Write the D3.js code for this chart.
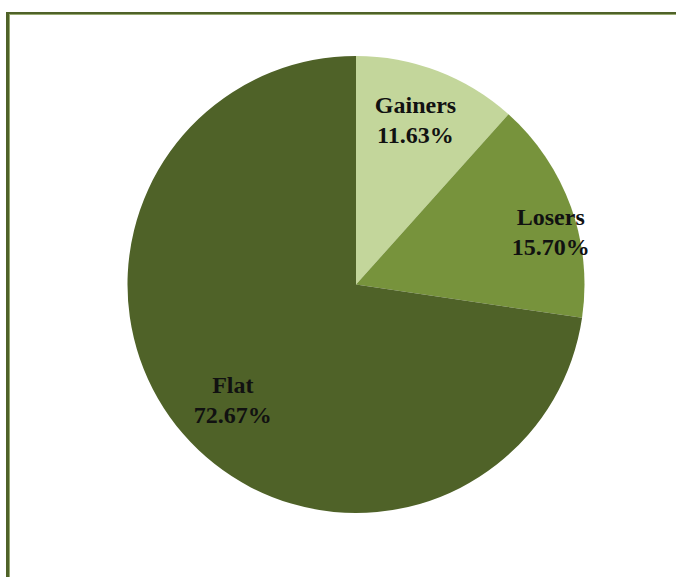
<!DOCTYPE html>
<html>
<head>
<meta charset="utf-8">
<script src="https://cdn.jsdelivr.net/npm/d3@7"></script>
<style>
  html, body { margin: 0; padding: 0; background: #ffffff; }
  svg { display: block; }
</style>
</head>
<body>
<svg id="chart" width="676" height="577"></svg>
<script>
// Market breadth split
const categories = ["Gainers", "Losers", "Flat"];
const shares = [11.63, 15.70, 72.67];
const sliceColors = ["#c3d69b", "#77933c", "#4f6228"];

const svg = d3.select("#chart");
const W = 676, H = 577;

// Frame: dark outer rule with a thin lighter inner rule, running off the right and bottom
svg.append("rect").attr("x", 6).attr("y", 12).attr("width", W).attr("height", 2).attr("fill", "#4f6228");
svg.append("rect").attr("x", 6).attr("y", 12).attr("width", 3).attr("height", H).attr("fill", "#4f6228");
svg.append("rect").attr("x", 9).attr("y", 14).attr("width", W).attr("height", 1).attr("fill", "#98aa72");
svg.append("rect").attr("x", 9).attr("y", 14).attr("width", 1).attr("height", H).attr("fill", "#98aa72");

const cx = 356, cy = 284.5, R = 228.5;
const data = categories.map((c, i) => ({ name: c, value: shares[i], color: sliceColors[i] }));

const pie = d3.pie().value(d => d.value).sort(null);
const arcs = pie(data);
const arc = d3.arc().innerRadius(0).outerRadius(R);
const labelArc = d3.arc().innerRadius(172).outerRadius(172);

const g = svg.append("g").attr("transform", `translate(${cx},${cy})`);

g.selectAll("path.slice")
  .data(arcs)
  .enter().append("path")
  .attr("class", "slice")
  .attr("d", arc)
  .attr("fill", d => d.data.color);

// Labels sit near the centroid; the narrow Losers wedge label is pushed toward the rim
const nudge = { Gainers: [-2, -4], Losers: [33, 5], Flat: [7, 3] };

const labels = g.selectAll("text.lbl")
  .data(arcs)
  .enter().append("text")
  .attr("class", "lbl")
  .attr("text-anchor", "middle")
  .attr("font-family", "'Liberation Serif', 'DejaVu Serif', serif")
  .attr("font-weight", "bold")
  .attr("font-size", 24)
  .attr("fill", "#111111")
  .attr("transform", d => {
    const [x, y] = labelArc.centroid(d);
    const n = nudge[d.data.name] || [0, 0];
    return `translate(${x + n[0]},${y + n[1]})`;
  });

labels.append("tspan").attr("x", 0).attr("y", -6.5).text(d => d.data.name);
labels.append("tspan").attr("x", 0).attr("y", 23.5).text(d => d.data.value.toFixed(2) + "%");
</script>
</body>
</html>
